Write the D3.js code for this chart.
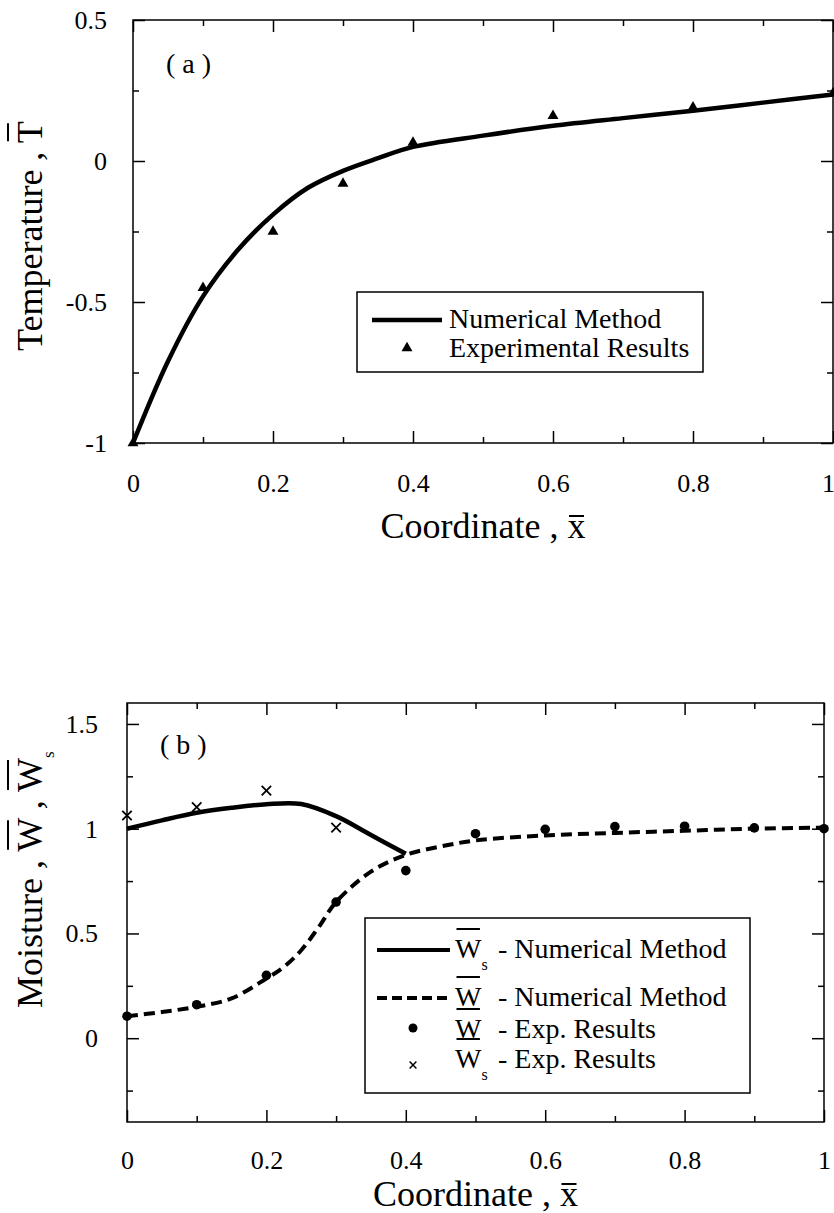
<!DOCTYPE html>
<html>
<head>
<meta charset="utf-8">
<script src="https://cdn.jsdelivr.net/npm/d3@7"></script>
<style>
  body { margin: 0; background: #fff; }
  svg { display: block; font-family: "Liberation Serif", "Times New Roman", serif; }
</style>
</head>
<body>
<svg id="chart" width="834" height="1213"></svg>
<script>
// ticks
var xMajor = [0, 0.2, 0.4, 0.6, 0.8, 1],
    xMinor = [0.1, 0.3, 0.5, 0.7, 0.9],
    tMajor = [-1, -0.5, 0, 0.5],
    tMinor = [-0.75, -0.25, 0.25],
    wMajor = [0, 0.5, 1, 1.5],
    wMinor = [-0.25, 0.25, 0.75, 1.25];

// (a) temperature
var tNumX = [0, 0.05, 0.1, 0.15, 0.2, 0.25, 0.3, 0.35, 0.4, 0.5, 0.6, 0.7, 0.8, 0.9, 1],
    tNumY = [-1, -0.71, -0.48, -0.315, -0.19, -0.095, -0.035, 0.01, 0.05, 0.09, 0.125, 0.152, 0.178, 0.207, 0.236],
    tExpX = [0, 0.1, 0.2, 0.3, 0.4, 0.6, 0.8, 1],
    tExpY = [-1, -0.45, -0.25, -0.08, 0.065, 0.16, 0.19, 0.24];

// (b) moisture
var wsNumX = [0, 0.05, 0.1, 0.15, 0.2, 0.25, 0.3, 0.35, 0.4],
    wsNumY = [1.0, 1.04, 1.076, 1.1, 1.117, 1.118, 1.06, 0.97, 0.88],
    wNumX = [0, 0.05, 0.1, 0.15, 0.2, 0.225, 0.25, 0.275, 0.3, 0.35, 0.4, 0.45, 0.5, 0.6, 0.7, 0.8, 0.9, 1],
    wNumY = [0.105, 0.125, 0.15, 0.19, 0.285, 0.34, 0.42, 0.53, 0.65, 0.795, 0.875, 0.915, 0.944, 0.968, 0.98, 0.99, 1.0, 1.005],
    wExpX = [0, 0.1, 0.2, 0.3, 0.4, 0.5, 0.6, 0.7, 0.8, 0.9, 1],
    wExpY = [0.105, 0.16, 0.3, 0.65, 0.8, 0.976, 0.997, 1.01, 1.012, 1.004, 1.0],
    wsExpX = [0, 0.1, 0.2, 0.3],
    wsExpY = [1.063, 1.103, 1.182, 1.005];

var svg = d3.select('#chart');

function zip(xs, ys) {
  return xs.map(function(d, i) { return [d, ys[i]]; });
}

function overbar(parent, node, i, dy, inset) {
  var s = node.getStartPositionOfChar(i),
      e = node.getEndPositionOfChar(i);
  parent.append('line')
    .attr('x1', s.x + inset).attr('x2', e.x - inset)
    .attr('y1', s.y + dy).attr('y2', s.y + dy)
    .attr('stroke', '#000').attr('stroke-width', 2);
}

function addAxis(g, axis, transform) {
  var a = g.append('g')
    .attr('transform', transform)
    .call(axis);
  a.select('.domain').remove();
  a.attr('font-family', null).attr('font-size', 26);
  a.selectAll('line').attr('stroke', '#000').attr('stroke-width', 1.5);
  a.selectAll('text').attr('fill', '#000');
  return a;
}

function panel(o) {
  var g = svg.append('g'),
      x = d3.scaleLinear().domain([0, 1]).range([o.left, o.right]),
      y = d3.scaleLinear().domain(o.yDomain).range([o.bottom, o.top]),
      fmt = function(d) { return String(d); };

  var bx = addAxis(g, d3.axisBottom(x).tickValues(xMajor).tickSize(-12).tickPadding(o.xPad).tickFormat(fmt), `translate(0,${o.bottom})`);
  // keep the last label inside the page
  bx.selectAll('text').filter(function(d) { return d === 1; }).attr('dx', o.lastDx);
  addAxis(g, d3.axisBottom(x).tickValues(xMinor).tickSize(-6).tickFormat(''), `translate(0,${o.bottom})`);
  addAxis(g, d3.axisTop(x).tickValues(xMajor).tickSize(-12).tickFormat(''), `translate(0,${o.top})`);
  addAxis(g, d3.axisTop(x).tickValues(xMinor).tickSize(-6).tickFormat(''), `translate(0,${o.top})`);
  addAxis(g, d3.axisLeft(y).tickValues(o.yMajor).tickSize(-12).tickPadding(o.yPad).tickFormat(fmt), `translate(${o.left},0)`);
  addAxis(g, d3.axisLeft(y).tickValues(o.yMinor).tickSize(-6).tickFormat(''), `translate(${o.left},0)`);
  addAxis(g, d3.axisRight(y).tickValues(o.yMajor).tickSize(-12).tickFormat(''), `translate(${o.right},0)`);
  addAxis(g, d3.axisRight(y).tickValues(o.yMinor).tickSize(-6).tickFormat(''), `translate(${o.right},0)`);

  g.append('rect')
    .attr('x', o.left).attr('y', o.top)
    .attr('width', o.right - o.left).attr('height', o.bottom - o.top)
    .attr('fill', 'none').attr('stroke', '#000').attr('stroke-width', 1.5);

  g.append('text')
    .attr('x', o.left + 33).attr('y', o.top + o.tagDy)
    .attr('font-size', 28)
    .text(o.tag);

  // x title
  var xt = g.append('text')
    .attr('x', (o.left + o.right) / 2).attr('y', o.xTitleY)
    .attr('text-anchor', 'middle').attr('font-size', 36)
    .text('Coordinate , x');
  overbar(g, xt.node(), 13, -22, 1.5);

  return {g: g, x: x, y: y};
}

var line = function(p) {
  return d3.line()
    .x(function(d) { return p.x(d[0]); })
    .y(function(d) { return p.y(d[1]); })
    .curve(d3.curveCatmullRom.alpha(0.5));
};

var triangle = d3.symbol().type(d3.symbolTriangle).size(52),
    cross = d3.symbol().type(d3.symbolX).size(60);

// ---------- panel (a) ----------
var pa = panel({
  left: 133, right: 833, top: 20, bottom: 443,
  yDomain: [-1, 0.5], yMajor: tMajor, yMinor: tMinor,
  xPad: 31, yPad: 26, tag: '( a )', tagDy: 53, xTitleY: 538, lastDx: -5
});

pa.g.append('path')
  .attr('d', line(pa)(zip(tNumX, tNumY)))
  .attr('fill', 'none').attr('stroke', '#000').attr('stroke-width', 4.5);

pa.g.selectAll('path.tri')
  .data(zip(tExpX, tExpY))
  .enter().append('path')
  .attr('class', 'tri')
  .attr('d', triangle)
  .attr('transform', function(d) { return `translate(${pa.x(d[0])},${pa.y(d[1])})`; });

var yta = pa.g.append('g').attr('transform', 'translate(42,351) rotate(-90)');
var ytaText = yta.append('text').attr('font-size', 36).text('Temperature , T');
overbar(yta, ytaText.node(), 14, -34, 2);

// legend (a)
var la = pa.g.append('g');
la.append('rect').attr('x', 357).attr('y', 292).attr('width', 346).attr('height', 80)
  .attr('fill', '#fff').attr('stroke', '#000').attr('stroke-width', 1.5);
la.append('line').attr('x1', 372).attr('x2', 442).attr('y1', 320).attr('y2', 320)
  .attr('stroke', '#000').attr('stroke-width', 4.5);
la.append('path').attr('d', triangle).attr('transform', 'translate(407,348)');
la.append('text').attr('x', 449).attr('y', 328).attr('font-size', 28).text('Numerical Method');
la.append('text').attr('x', 449).attr('y', 357).attr('font-size', 28).text('Experimental Results');

// ---------- panel (b) ----------
var pb = panel({
  left: 127, right: 824, top: 703, bottom: 1122,
  yDomain: [-0.4, 1.6], yMajor: wMajor, yMinor: wMinor,
  xPad: 29, yPad: 29, tag: '( b )', tagDy: 51, xTitleY: 1206, lastDx: 0
});

pb.g.append('path')
  .attr('d', line(pb)(zip(wNumX, wNumY)))
  .attr('fill', 'none').attr('stroke', '#000').attr('stroke-width', 4)
  .attr('stroke-dasharray', '11,6');

pb.g.append('path')
  .attr('d', line(pb)(zip(wsNumX, wsNumY)))
  .attr('fill', 'none').attr('stroke', '#000').attr('stroke-width', 4.5);

pb.g.selectAll('circle.dot')
  .data(zip(wExpX, wExpY))
  .enter().append('circle')
  .attr('class', 'dot')
  .attr('cx', function(d) { return pb.x(d[0]); })
  .attr('cy', function(d) { return pb.y(d[1]); })
  .attr('r', 4.8);

pb.g.selectAll('path.cross')
  .data(zip(wsExpX, wsExpY))
  .enter().append('path')
  .attr('class', 'cross')
  .attr('d', cross)
  .attr('fill', 'none').attr('stroke', '#000').attr('stroke-width', 1.8)
  .attr('transform', function(d) { return `translate(${pb.x(d[0])},${pb.y(d[1])})`; });

var ytb = pb.g.append('g').attr('transform', 'translate(42,1008) rotate(-90)');
var ytbText = ytb.append('text').attr('font-size', 36);
ytbText.append('tspan').text('Moisture , W , W');
ytbText.append('tspan').attr('font-size', 17).attr('dy', 12).text('s');
overbar(ytb, ytbText.node(), 11, -34, 2);
overbar(ytb, ytbText.node(), 15, -34, 2);

// legend (b)
var legendKinds = ['solid', 'dash', 'dot', 'cross'],
    legendSub = [true, false, false, true],
    legendLabels = ['- Numerical Method', '- Numerical Method', '- Exp. Results', '- Exp. Results'],
    legendBase = [958, 1006, 1038, 1068],
    legendMark = [950, 998, 1028, 1065];

var lb = pb.g.append('g');
lb.append('rect').attr('x', 365).attr('y', 918).attr('width', 385).attr('height', 175)
  .attr('fill', '#fff').attr('stroke', '#000').attr('stroke-width', 1.5);

legendKinds.forEach(function(k, i) {
  var my = legendMark[i];
  if (k === 'solid' || k === 'dash') {
    lb.append('line').attr('x1', 377).attr('x2', 450).attr('y1', my).attr('y2', my)
      .attr('stroke', '#000').attr('stroke-width', 4)
      .attr('stroke-dasharray', k === 'dash' ? '10,5' : null);
  } else if (k === 'dot') {
    lb.append('circle').attr('cx', 413).attr('cy', my).attr('r', 4.5);
  } else {
    lb.append('path').attr('d', d3.symbol().type(d3.symbolX).size(32))
      .attr('fill', 'none').attr('stroke', '#000').attr('stroke-width', 1.5)
      .attr('transform', `translate(413,${my})`);
  }
  var t = lb.append('text').attr('font-size', 28).attr('y', legendBase[i]);
  t.append('tspan').attr('x', 455).text('W');
  if (legendSub[i]) {
    t.append('tspan').attr('font-size', 16).attr('dy', 12).text('s');
    t.append('tspan').attr('x', 498).attr('dy', -12).text(legendLabels[i]);
  } else {
    t.append('tspan').attr('x', 498).text(legendLabels[i]);
  }
  overbar(lb, t.node(), 0, -29, 1.5);
});
</script>
</body>
</html>
